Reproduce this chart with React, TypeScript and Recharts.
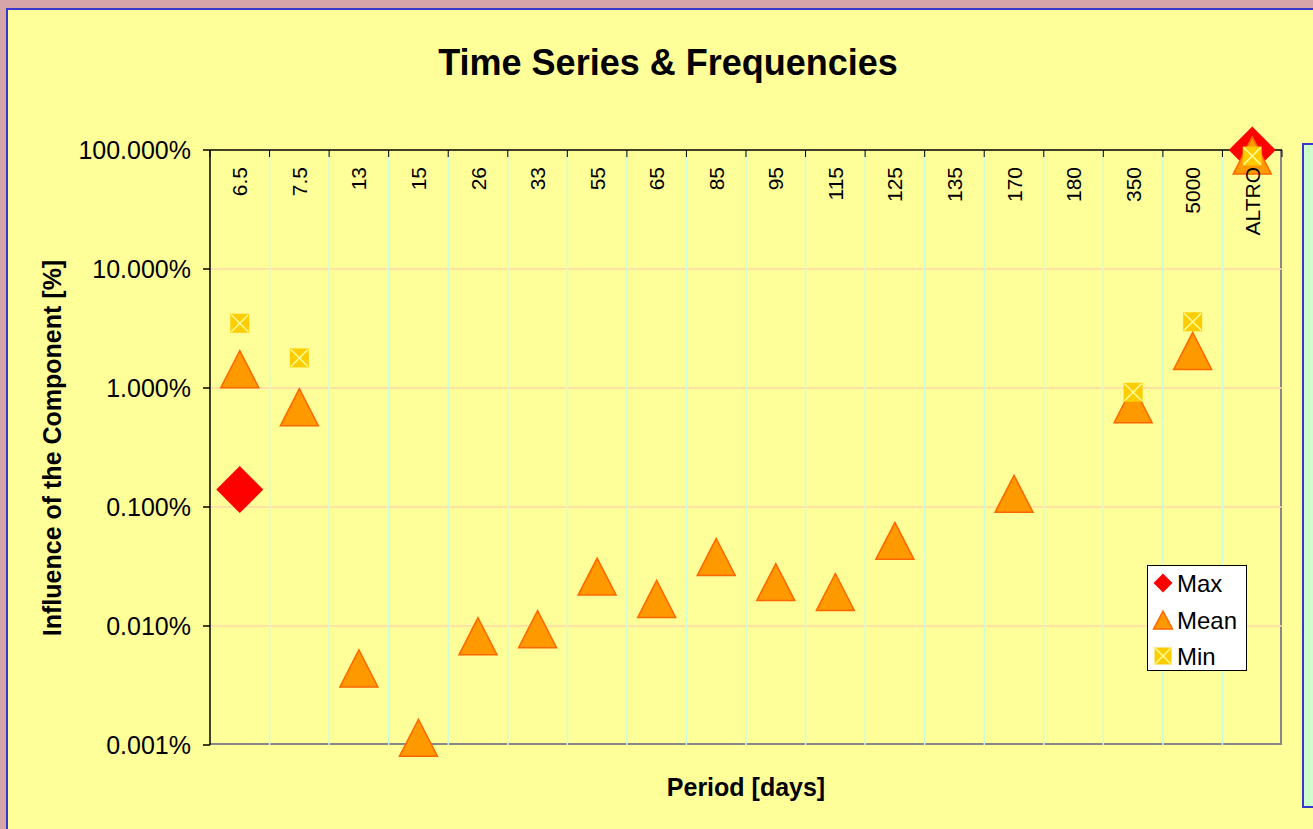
import React from 'react';
import { ComposedChart, Line, XAxis, YAxis, CartesianGrid } from 'recharts';

// category labels (period in days) and the three series, in percent
const periods = ['6.5', '7.5', '13', '15', '26', '33', '55', '65', '85', '95', '115', '125', '135', '170', '180', '350', '5000', 'ALTRO'];
const maxValues = [0.14, null, null, null, null, null, null, null, null, null, null, null, null, null, null, null, null, 100];
const meanValues = [1.44, 0.69, 0.0044, 0.00115, 0.0082, 0.0094, 0.026, 0.0169, 0.038, 0.0234, 0.0193, 0.052, null, 0.129, null, 0.73, 2.05, 90];
const minValues = [3.5, 1.79, null, null, null, null, null, null, null, null, null, null, null, null, null, 0.92, 3.6, 89];
const yTicks = [0.001, 0.01, 0.1, 1, 10, 100];

const rows = periods.map((p, i) => ({
  idx: i,
  period: p,
  max: maxValues[i],
  mean: meanValues[i],
  min: minValues[i],
}));

const W = 1313;
const H = 829;
const PLOT_L = 210;
const PLOT_T = 150;
const PLOT_R = 1282;
const PLOT_B = 745;
const X_AXIS_H = 30;
const BAND = (PLOT_R - PLOT_L) / periods.length;
const FONT = '"Liberation Sans", Arial, sans-serif';

const Diamond = ({ cx, cy, r }: { cx: number; cy: number; r: number }) => (
  <polygon points={`${cx},${cy - r} ${cx + r},${cy} ${cx},${cy + r} ${cx - r},${cy}`} fill="#ff0000" />
);

const Triangle = ({ cx, cy, w, h }: { cx: number; cy: number; w: number; h: number }) => (
  <polygon
    points={`${cx},${cy - h / 2} ${cx + w / 2},${cy + h / 2} ${cx - w / 2},${cy + h / 2}`}
    fill="#ff9900"
    stroke="#ff6600"
    strokeWidth={1.5}
  />
);

const XSquare = ({ cx, cy, s }: { cx: number; cy: number; s: number }) => (
  <g>
    <rect x={cx - s / 2} y={cy - s / 2} width={s} height={s} fill="#ffcc00" />
    <line x1={cx - s / 2 + 1} y1={cy - s / 2 + 1} x2={cx + s / 2 - 1} y2={cy + s / 2 - 1} stroke="#ffff99" strokeWidth={1.5} />
    <line x1={cx + s / 2 - 1} y1={cy - s / 2 + 1} x2={cx - s / 2 + 1} y2={cy + s / 2 - 1} stroke="#ffff99" strokeWidth={1.5} />
  </g>
);

const hasPoint = (p: any) => p.value != null && p.cx != null && p.cy != null && !isNaN(p.cy);

const maxDot = (p: any) => (hasPoint(p) ? <Diamond key={p.index} cx={p.cx} cy={p.cy} r={23.5} /> : <g key={p.index} />);
const meanDot = (p: any) => (hasPoint(p) ? <Triangle key={p.index} cx={p.cx} cy={p.cy} w={38} h={37} /> : <g key={p.index} />);
const minDot = (p: any) => (hasPoint(p) ? <XSquare key={p.index} cx={p.cx} cy={p.cy} s={19} /> : <g key={p.index} />);

const PeriodTick = (props: any) => {
  const { x, payload } = props;
  const i = payload.value;
  return (
    <g>
      <line x1={x - BAND / 2} x2={x - BAND / 2} y1={PLOT_T} y2={PLOT_T + 7} stroke="#000" />
      {i === periods.length - 1 && (
        <line x1={x + BAND / 2} x2={x + BAND / 2} y1={PLOT_T} y2={PLOT_T + 7} stroke="#000" />
      )}
      <text
        transform={`translate(${x},${PLOT_T + 17}) rotate(-90)`}
        textAnchor="end"
        dy="0.36em"
        fontSize={21}
        fontFamily={FONT}
        fill="#000"
      >
        {periods[i]}
      </text>
    </g>
  );
};

export default function App() {
  return (
    <div style={{ position: 'absolute', left: 0, top: 0, width: W, height: H, overflow: 'hidden', background: '#d5a5a9' }}>
      {/* yellow chart area */}
      <div
        style={{
          position: 'absolute',
          left: 6,
          top: 8,
          width: W,
          height: H,
          background: '#ffff99',
          borderLeft: '2px solid #3838cc',
          borderTop: '2px solid #3838cc',
        }}
      />
      {/* green side panel */}
      <div
        style={{
          position: 'absolute',
          left: 1302,
          top: 143,
          width: 40,
          height: 661,
          background: '#ccffcc',
          border: '2px solid #3838cc',
        }}
      />
      {/* plot frame, right and bottom */}
      <div
        style={{
          position: 'absolute',
          left: PLOT_L,
          top: PLOT_T,
          width: PLOT_R - PLOT_L,
          height: PLOT_B - PLOT_T,
          borderRight: '2px solid #888888',
          borderBottom: '2px solid #888888',
          boxSizing: 'border-box',
        }}
      />
      <div style={{ position: 'absolute', left: 0, top: 0 }}>
        <ComposedChart
          width={W}
          height={H}
          data={rows}
          margin={{ top: PLOT_T - X_AXIS_H, right: W - PLOT_R, bottom: H - PLOT_B, left: 0 }}
        >
          <CartesianGrid
            vertical={false}
            stroke="#ffd8a8"
            strokeWidth={1.5}
            horizontalValues={yTicks.slice(1, -1)}
          />
          <CartesianGrid
            horizontal={false}
            stroke="#ccffdd"
            strokeWidth={1.5}
            verticalValues={rows.slice(1).map((r) => r.idx - 0.5)}
          />
          <XAxis
            dataKey="idx"
            type="number"
            orientation="top"
            domain={[-0.5, periods.length - 0.5]}
            ticks={rows.map((r) => r.idx)}
            interval={0}
            height={X_AXIS_H}
            axisLine={{ stroke: '#000', strokeWidth: 1.5 }}
            tickLine={false}
            tick={<PeriodTick />}
          />
          <YAxis
            type="number"
            scale="log"
            domain={[0.001, 100]}
            ticks={yTicks}
            interval={0}
            width={PLOT_L}
            axisLine={{ stroke: '#000', strokeWidth: 1.5 }}
            tickLine={{ stroke: '#000', strokeWidth: 1.5 }}
            tickSize={7}
            tickMargin={12}
            tickFormatter={(v: number) => v.toFixed(3) + '%'}
            tick={{ fill: '#000', fontSize: 25, fontFamily: FONT }}
          />
          <Line dataKey="max" stroke="none" dot={maxDot} activeDot={false} isAnimationActive={false} />
          <Line dataKey="mean" stroke="none" dot={meanDot} activeDot={false} isAnimationActive={false} />
          <Line dataKey="min" stroke="none" dot={minDot} activeDot={false} isAnimationActive={false} />
        </ComposedChart>
      </div>
      {/* titles and legend */}
      <svg width={W} height={H} style={{ position: 'absolute', left: 0, top: 0, pointerEvents: 'none' }}>
        <text x={668} y={75} textAnchor="middle" fontSize={36} fontWeight="bold" fontFamily={FONT} fill="#000">
          Time Series &amp; Frequencies
        </text>
        <text x={746} y={796} textAnchor="middle" fontSize={25} fontWeight="bold" fontFamily={FONT} fill="#000">
          Period [days]
        </text>
        <text
          transform="translate(61,448) rotate(-90)"
          textAnchor="middle"
          fontSize={25}
          fontWeight="bold"
          fontFamily={FONT}
          fill="#000"
        >
          Influence of the Component [%]
        </text>
        <rect x={1147.5} y={565.5} width={99} height={105} fill="#fff" stroke="#000" strokeWidth={1} />
        <Diamond cx={1163} cy={583} r={9.5} />
        <Triangle cx={1163} cy={620} w={19} h={18} />
        <XSquare cx={1163} cy={656} s={17} />
        <text x={1177} y={583} dy="0.36em" fontSize={24} fontFamily={FONT} fill="#000">Max</text>
        <text x={1177} y={620} dy="0.36em" fontSize={24} fontFamily={FONT} fill="#000">Mean</text>
        <text x={1177} y={656} dy="0.36em" fontSize={24} fontFamily={FONT} fill="#000">Min</text>
      </svg>
    </div>
  );
}
